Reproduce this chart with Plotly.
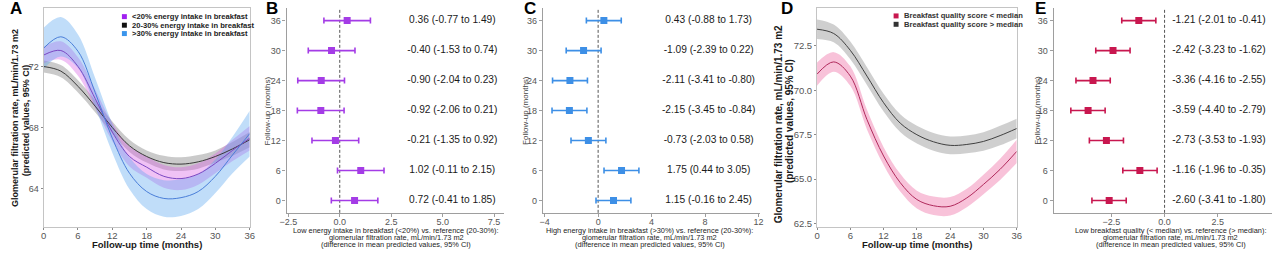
import plotly.graph_objects as go

# ---------------- data ----------------
months_curve = [0, 3, 6, 9, 12, 15, 18, 21, 24, 27, 30, 33, 36]

# Panel A: predicted eGFR by breakfast energy intake group
a_low_mid = [72.75, 73.05, 72.0, 69.9, 67.7, 66.1, 65.4, 64.8, 64.65, 64.95, 65.65, 66.5, 67.3]
a_low_lo = [72.2, 72.45, 71.4, 69.3, 67.1, 65.45, 64.7, 64.05, 63.9, 64.25, 65.0, 65.8, 66.5]
a_low_hi = [73.3, 73.65, 72.6, 70.5, 68.3, 66.75, 66.1, 65.55, 65.4, 65.65, 66.3, 67.2, 68.1]

a_ref_mid = [72.0, 71.7, 70.7, 69.4, 68.0, 66.8, 66.1, 65.7, 65.6, 65.75, 66.1, 66.6, 67.2]
a_ref_lo = [71.6, 71.3, 70.3, 69.0, 67.6, 66.4, 65.7, 65.25, 65.15, 65.3, 65.7, 66.15, 66.7]
a_ref_hi = [72.4, 72.1, 71.1, 69.8, 68.4, 67.2, 66.5, 66.15, 66.05, 66.2, 66.5, 67.05, 67.7]

a_high_mid = [73.2, 73.95, 73.0, 70.3, 67.3, 65.0, 63.8, 63.35, 63.4, 63.8, 64.8, 66.2, 67.6]
a_high_lo = [71.85, 72.65, 71.9, 69.35, 66.35, 63.95, 62.65, 62.15, 62.2, 62.65, 63.7, 65.0, 66.1]
a_high_hi = [74.55, 75.25, 74.1, 71.25, 68.25, 66.05, 64.95, 64.55, 64.6, 64.95, 65.9, 67.4, 69.1]

a_legend = ["<20% energy intake in breakfast",
            "20-30% energy intake in breakfast",
            ">30% energy intake in breakfast"]

# Panel D: predicted eGFR by breakfast quality
d_low_mid = [70.91, 71.6, 70.8, 68.35, 66.3, 64.8, 63.85, 63.5, 63.47, 63.94, 64.7, 65.55, 66.56]
d_low_lo = [70.26, 71.05, 70.25, 67.8, 65.8, 64.3, 63.35, 62.98, 62.95, 63.42, 64.15, 64.95, 65.9]
d_low_hi = [71.56, 72.15, 71.35, 68.9, 66.8, 65.3, 64.35, 64.02, 63.99, 64.46, 65.25, 66.15, 67.22]

d_high_mid = [73.44, 73.2, 72.25, 70.8, 69.3, 68.15, 67.5, 67.1, 66.9, 66.95, 67.12, 67.45, 67.85]
d_high_lo = [72.89, 72.7, 71.75, 70.3, 68.8, 67.65, 67.0, 66.6, 66.4, 66.45, 66.6, 66.9, 67.3]
d_high_hi = [73.99, 73.7, 72.75, 71.3, 69.8, 68.65, 68.0, 67.6, 67.4, 67.45, 67.64, 68.0, 68.4]

d_legend = ["Breakfast quality score < median",
            "Breakfast quality score > median"]

# Forest panels
months_forest = [0, 6, 12, 18, 24, 30, 36]

b_est = [0.72, 1.02, -0.21, -0.92, -0.90, -0.40, 0.36]
b_lo = [-0.41, -0.11, -1.35, -2.06, -2.04, -1.53, -0.77]
b_hi = [1.85, 2.15, 0.92, 0.21, 0.23, 0.74, 1.49]

c_est = [1.15, 1.75, -0.73, -2.15, -2.11, -1.09, 0.43]
c_lo = [-0.16, 0.44, -2.03, -3.45, -3.41, -2.39, -0.88]
c_hi = [2.45, 3.05, 0.58, -0.84, -0.80, 0.22, 1.73]

e_est = [-2.60, -1.16, -2.73, -3.59, -3.36, -2.42, -1.21]
e_lo = [-3.41, -1.96, -3.53, -4.40, -4.16, -3.23, -2.01]
e_hi = [-1.80, -0.35, -1.93, -2.79, -2.55, -1.62, -0.41]

b_xlabel = ["Low energy intake in breakfast (<20%) vs. reference (20-30%):",
            "glomerular filtration rate, mL/min/1.73 m2",
            "(difference in mean predicted values, 95% CI)"]
c_xlabel = ["High energy intake in breakfast (>30%) vs. reference (20-30%):",
            "glomerular filtration rate, mL/min/1.73 m2",
            "(difference in mean predicted values, 95% CI)"]
e_xlabel = ["Low breakfast quality (< median) vs. reference (> median):",
            "glomerular filtration rate, mL/min/1.73 m2",
            "(difference in mean predicted values, 95% CI)"]

# ---------------- styling ----------------
W, H = 1280, 253
FONT = "Liberation Sans, Arial, sans-serif"
TICKC = "#555555"
AXC = "#9e9e9e"


def px(xp):
    return xp / W


def py(yp):
    return 1 - yp / H


fig = go.Figure()


def band(xa, ya, x, lo, hi, fill):
    fig.add_trace(go.Scatter(x=x, y=lo, mode="lines", line=dict(width=0, shape="spline"),
                             xaxis=xa, yaxis=ya, showlegend=False, hoverinfo="skip"))
    fig.add_trace(go.Scatter(x=x, y=hi, mode="lines", line=dict(width=0, shape="spline"),
                             fill="tonexty", fillcolor=fill,
                             xaxis=xa, yaxis=ya, showlegend=False, hoverinfo="skip"))


def curve(xa, ya, x, y, color):
    fig.add_trace(go.Scatter(x=x, y=y, mode="lines", line=dict(width=1, color=color, shape="spline"),
                             xaxis=xa, yaxis=ya, showlegend=False))


# Panel A
band("x", "y", months_curve, a_ref_lo, a_ref_hi, "rgba(150,150,150,0.5)")
band("x", "y", months_curve, a_low_lo, a_low_hi, "rgba(215,95,230,0.38)")
band("x", "y", months_curve, a_high_lo, a_high_hi, "rgba(90,165,240,0.38)")
curve("x", "y", months_curve, a_ref_mid, "#3a3a3a")
curve("x", "y", months_curve, a_low_mid, "#7a48c2")
curve("x", "y", months_curve, a_high_mid, "#4a7ed8")

# Panel D
band("x4", "y4", months_curve, d_high_lo, d_high_hi, "rgba(160,160,160,0.5)")
band("x4", "y4", months_curve, d_low_lo, d_low_hi, "rgba(238,110,165,0.42)")
curve("x4", "y4", months_curve, d_high_mid, "#404040")
curve("x4", "y4", months_curve, d_low_mid, "#b02a5c")


# Forest panels
def forest(xa, ya, est, lo, hi, color, label_x):
    fig.add_trace(go.Scatter(
        x=est, y=months_forest, mode="markers",
        marker=dict(symbol="square", size=7, color=color),
        error_x=dict(type="data", symmetric=False,
                     array=[h - e for e, h in zip(est, hi)],
                     arrayminus=[e - l for e, l in zip(est, lo)],
                     color=color, thickness=1.6, width=3),
        xaxis=xa, yaxis=ya, showlegend=False))
    fig.add_trace(go.Scatter(
        x=[label_x] * len(est), y=months_forest, mode="text",
        text=[f"{e:.2f} ({l:.2f} to {h:.2f})" for e, l, h in zip(est, lo, hi)],
        textposition="middle center",
        textfont=dict(family=FONT, size=10.2, color="#1a1a1a"),
        xaxis=xa, yaxis=ya, showlegend=False, hoverinfo="skip"))


forest("x2", "y2", b_est, b_lo, b_hi, "#a43ce6", 5.47)
forest("x3", "y3", c_est, c_lo, c_hi, "#3d8fe6", 8.27)
forest("x5", "y5", e_est, e_lo, e_hi, "#c8174f", 2.55)

# ---------------- axes ----------------
curve_y_dom = [py(228.3), py(8.3)]
forest_y_dom = [py(213.7), py(8.3)]

box_axis = dict(showline=True, mirror=True, linecolor="#c4c4c4", linewidth=1,
                ticks="outside", ticklen=2, tickcolor="#8a8a8a", showgrid=False, zeroline=False)
open_axis = dict(showline=True, mirror=False, linecolor=AXC, linewidth=1.4,
                 ticks="outside", ticklen=3, tickcolor=AXC, showgrid=False, zeroline=False)

layout_axes = dict(
    xaxis=dict(domain=[px(37), px(245)], range=[0, 36], anchor="y",
               tickvals=[0, 6, 12, 18, 24, 30, 36], ticklabelstandoff=-3,
               tickfont=dict(family=FONT, size=9.5, color=TICKC), **box_axis),
    yaxis=dict(domain=curve_y_dom, range=[61.45, 75.82], anchor="x",
               tickvals=[64, 68, 72],
               tickfont=dict(family=FONT, size=9, color=TICKC), **box_axis),
    xaxis4=dict(domain=[px(817.7), px(1019.3)], range=[0, 36], anchor="y4",
                tickvals=[0, 6, 12, 18, 24, 30, 36], ticklabelstandoff=-3,
                tickfont=dict(family=FONT, size=9.5, color=TICKC), **box_axis),
    yaxis4=dict(domain=curve_y_dom, range=[62.28, 74.62], anchor="x4",
                tickvals=[62.5, 65, 67.5, 70, 72.5], tickformat=".1f",
                tickfont=dict(family=FONT, size=9.5, color=TICKC), **box_axis),
    xaxis2=dict(domain=[px(282.3), px(501.7)], range=[-2.58, 7.98], anchor="y2",
                tickvals=[-2.5, 0, 2.5, 5, 7.5], tickformat=".1f", ticklabelstandoff=-3,
                tickfont=dict(family=FONT, size=9, color=TICKC), **open_axis),
    yaxis2=dict(domain=forest_y_dom, range=[-2.47, 38.47], anchor="x2",
                tickvals=months_forest,
                tickfont=dict(family=FONT, size=9, color=TICKC), **open_axis),
    xaxis3=dict(domain=[px(541), px(760)], range=[-4.13, 12.1], anchor="y3",
                tickvals=[-4, 0, 4, 8, 12], ticklabelstandoff=-3,
                tickfont=dict(family=FONT, size=9, color=TICKC), **open_axis),
    yaxis3=dict(domain=forest_y_dom, range=[-2.47, 38.47], anchor="x3",
                tickvals=months_forest,
                tickfont=dict(family=FONT, size=9, color=TICKC), **open_axis),
    xaxis5=dict(domain=[px(1056.7), px(1276.7)], range=[-5.2, 5.03], anchor="y5",
                tickvals=[-2.5, 0, 2.5], tickformat=".1f", ticklabelstandoff=-3,
                tickfont=dict(family=FONT, size=9, color=TICKC), **open_axis),
    yaxis5=dict(domain=forest_y_dom, range=[-2.47, 38.47], anchor="x5",
                tickvals=months_forest,
                tickfont=dict(family=FONT, size=9, color=TICKC), **open_axis),
)

shapes = []
for xa, ya in [("x2", "y2"), ("x3", "y3"), ("x5", "y5")]:
    shapes.append(dict(type="line", xref=xa, yref=ya + " domain", x0=0, x1=0, y0=0, y1=1,
                       line=dict(color="#555555", width=1, dash="3px,2px"), layer="below"))

annotations = []


def ann(text, x, y, size, bold=False, color="#1a1a1a", angle=0, xanchor="center", yanchor="middle"):
    annotations.append(dict(text=f"<b>{text}</b>" if bold else text, xref="paper", yref="paper",
                            x=px(x), y=py(y), showarrow=False, textangle=angle,
                            xanchor=xanchor, yanchor=yanchor,
                            font=dict(family=FONT, size=size, color=color)))


# panel letters
for letter, x in [("A", 1.5), ("B", 259.5), ("C", 519.5), ("D", 779.5), ("E", 1035.5)]:
    ann(letter, x, 9, 17, bold=True, color="#000000", xanchor="left")

# curve panel titles
ann("Glomerular filtration rate, mL/min/1.73 m2", 7.5, 118, 9, bold=True, angle=-90)
ann("(predicted values, 95% CI)", 19, 121, 9, bold=True, angle=-90)
ann("Follow-up time (months)", 141, 245, 9.5, bold=True)
ann("Glomerular filtration rate, mL/min/1.73 m2", 779, 125, 10, bold=True, angle=-90)
ann("(predicted values, 95% CI)", 790, 122, 10, bold=True, angle=-90)
ann("Follow-up time (months)", 919, 245, 9.5, bold=True)

# forest titles
for lines, cx, ytx in [(b_xlabel, 392.8, 263.3), (c_xlabel, 649, 523.3), (e_xlabel, 1174.7, 1040)]:
    for ln, yy in zip(lines, [231, 238.3, 245.6]):
        ann(ln, cx, yy, 7.4, color="#222222")
    ann("Follow-up (months)", ytx, 111, 8, color="#444444", angle=-90)

# legends (drawn as squares + text)
for lbl, col, yy in zip(a_legend, ["#a020f0", "#111111", "#3a95ec"], [16.7, 25.3, 33.7]):
    shapes.append(dict(type="rect", xref="paper", yref="paper", x0=px(116), x1=px(121),
                       y0=py(yy + 2.5), y1=py(yy - 2.5), fillcolor=col, line=dict(width=0)))
    ann(lbl, 124, yy, 7.6, bold=True, color="#222222", xanchor="left")

for lbl, col, yy in zip(d_legend, ["#c8174f", "#333333"], [16.0, 24.4]):
    shapes.append(dict(type="rect", xref="paper", yref="paper", x0=px(895), x1=px(900),
                       y0=py(yy + 2.5), y1=py(yy - 2.5), fillcolor=col, line=dict(width=0)))
    ann(lbl, 903, yy, 7.6, bold=True, color="#333333", xanchor="left")

fig.update_layout(
    width=W, height=H, autosize=False,
    margin=dict(l=0, r=0, t=0, b=0),
    paper_bgcolor="white", plot_bgcolor="white",
    showlegend=False,
    font=dict(family=FONT),
    shapes=shapes, annotations=annotations,
    **layout_axes,
)

fig.write_html("out.html", config={"displayModeBar": False},
               post_script="document.body.style.margin='0';document.body.style.overflow='hidden';")
